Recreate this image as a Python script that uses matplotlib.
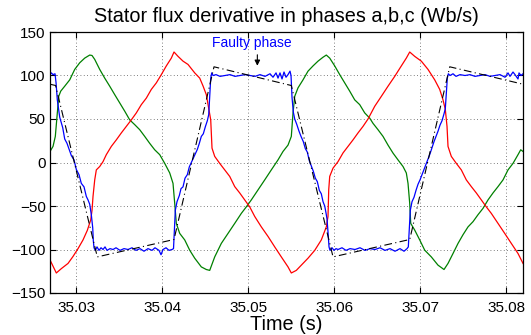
import matplotlib
matplotlib.use("Agg")
import matplotlib.pyplot as plt
import numpy as np

plt.rcParams['font.family'] = ['Liberation Sans', 'DejaVu Sans']

# ---- data (time in s, flux derivative in Wb/s) ----
blue_t = [35.026942, 35.027093, 35.027291, 35.027523, 35.027640, 35.027791, 35.028070, 35.028419,
          35.028651, 35.028919, 35.029419, 35.029733, 35.030000, 35.030314, 35.030581, 35.030895,
          35.031163, 35.031360, 35.031558, 35.031744, 35.031907, 35.031977, 35.032058, 35.032209,
          35.032407, 35.032640, 35.032872, 35.033105, 35.033337, 35.033570, 35.033919, 35.034267,
          35.034616, 35.035081, 35.035547, 35.036012, 35.036477, 35.036942, 35.037407, 35.037872,
          35.038337, 35.038802, 35.039151, 35.039616, 35.039849, 35.040081, 35.040430, 35.040779,
          35.041128, 35.041302, 35.041419, 35.041512, 35.041709, 35.041977, 35.042174, 35.042407,
          35.042640, 35.042907, 35.043140, 35.043372, 35.043605, 35.043837, 35.044070, 35.044302,
          35.044535, 35.044767, 35.045000, 35.045233, 35.045395, 35.045512, 35.045628, 35.045744,
          35.045895, 35.046244, 35.046709, 35.047291, 35.047872, 35.048453, 35.049035, 35.049616,
          35.050198, 35.050779, 35.051360, 35.051942, 35.052523, 35.052872, 35.053221, 35.053453,
          35.053686, 35.053919, 35.054151, 35.054384, 35.054616, 35.054849, 35.054965, 35.055081,
          35.055233, 35.055395, 35.055628, 35.055895, 35.056128, 35.056395, 35.056628, 35.056860,
          35.057093, 35.057326, 35.057558, 35.057791, 35.058023, 35.058256, 35.058488, 35.058686,
          35.058884, 35.059035, 35.059151, 35.059267, 35.059384, 35.059500, 35.059733, 35.059965,
          35.060198, 35.060430, 35.060895, 35.061360, 35.061826, 35.062407, 35.062988, 35.063570,
          35.064151, 35.064733, 35.065314, 35.065895, 35.066477, 35.067058, 35.067640, 35.068105,
          35.068453, 35.068605, 35.068721, 35.068837, 35.069035, 35.069267, 35.069500, 35.069733,
          35.069965, 35.070198, 35.070430, 35.070663, 35.070895, 35.071128, 35.071360, 35.071593,
          35.071826, 35.072058, 35.072291, 35.072523, 35.072756, 35.072907, 35.073023, 35.073140,
          35.073256, 35.073453, 35.073802, 35.074151, 35.074616, 35.075198, 35.075779, 35.076360,
          35.076942, 35.077523, 35.078105, 35.078686, 35.079267, 35.079849, 35.080198, 35.080430,
          35.080779, 35.081012, 35.081360, 35.081477, 35.081709, 35.081942]
blue_v = [101, 103, 101, 102, 92, 72, 52, 40,
          27, 22, 8, 3, -8, -14, -24, -28,
          -39, -43, -48, -60, -75, -90, -98, -101,
          -97, -101, -98, -100, -97, -101, -99, -100,
          -98, -101, -99, -100, -98, -101, -99, -102,
          -99, -101, -98, -101, -106, -100, -98, -101,
          -100, -99, -75, -55, -45, -38, -30, -28,
          -18, -14, -5, 0, 5, 10, 15, 22,
          30, 33, 41, 48, 55, 75, 97, 103,
          100, 101, 99, 100, 101, 99, 100, 101,
          100, 99, 101, 99, 102, 98, 103, 97,
          103, 96, 104, 98, 101, 105, 100, 75,
          58, 50, 44, 36, 30, 24, 16, 12,
          2, -4, -10, -18, -22, -32, -36, -45,
          -50, -58, -65, -80, -97, -101, -98, -101,
          -99, -100, -98, -101, -99, -100, -98, -101,
          -99, -100, -98, -101, -99, -102, -99, -102,
          -99, -97, -75, -55, -45, -40, -32, -25,
          -20, -14, -8, -2, 4, 10, 17, 24,
          30, 36, 43, 48, 56, 62, 80, 97,
          102, 100, 102, 99, 101, 100, 101, 99,
          100, 101, 99, 100, 101, 98, 103, 99,
          104, 101, 96, 103, 100, 102]

red_t = [35.026942, 35.027674, 35.028256, 35.029035, 35.029616, 35.030198, 35.030779, 35.031279,
         35.031674, 35.031826, 35.031942, 35.032140, 35.032326, 35.032721, 35.033105, 35.033488,
         35.034070, 35.034651, 35.035233, 35.035814, 35.036395, 35.036977, 35.037558, 35.038140,
         35.038721, 35.039302, 35.039884, 35.040465, 35.041047, 35.041360, 35.041826, 35.042407,
         35.042988, 35.043767, 35.044349, 35.044733, 35.045116, 35.045400, 35.045628, 35.045779,
         35.046093, 35.046674, 35.047256, 35.047837, 35.048419, 35.049000, 35.049581, 35.050163,
         35.050744, 35.051512, 35.052291, 35.053070, 35.053837, 35.054616, 35.055000, 35.055581,
         35.056163, 35.056942, 35.057721, 35.058488, 35.059070, 35.059267, 35.059349, 35.059465,
         35.059849, 35.060430, 35.061012, 35.061593, 35.062174, 35.062756, 35.063337, 35.063919,
         35.064698, 35.065465, 35.066244, 35.067023, 35.067791, 35.068372, 35.068767, 35.069349,
         35.070116, 35.070895, 35.071674, 35.072256, 35.072640, 35.072907, 35.073105, 35.073221,
         35.073605, 35.074186, 35.074767, 35.075349, 35.075930, 35.076512, 35.077093, 35.077674,
         35.078256, 35.079035, 35.079814, 35.080581, 35.081360, 35.081942]
red_v = [-112, -127, -122, -116, -108, -99, -89, -78,
         -66, -55, -39, -20, -8.5, -4.6, 1, 9,
         18.5, 26, 34, 41.5, 49, 57, 66.5, 74,
         84, 91.5, 101, 111, 120, 127, 122, 116.5,
         112.7, 103, 97, 88, 78, 62, 49, 16.5,
         7, -1, -8.5, -16, -27.7, -35, -43, -51,
         -62, -74, -85, -97, -108.5, -120, -127, -124,
         -118, -110, -101, -89, -74, -62, -31.5, -16,
         -6.5, 1, 11, 18.5, 26, 34, 41.5, 50,
         64.6, 76, 87.7, 99, 111, 120, 127, 122,
         116.5, 107, 95, 84, 72, 61, 41.5, 18.5,
         7, -1, -8.5, -20, -27.7, -35, -43, -51,
         -58.5, -70, -81.5, -93, -104.6, -116]

green_t = [35.026942, 35.027291, 35.027558, 35.027791, 35.027953, 35.028186, 35.028651, 35.029233,
           35.029814, 35.030395, 35.030977, 35.031558, 35.031826, 35.032140, 35.032721, 35.033302,
           35.033884, 35.034465, 35.035047, 35.035628, 35.036209, 35.036791, 35.037372, 35.037953,
           35.038535, 35.039116, 35.039698, 35.040279, 35.040860, 35.041244, 35.041442, 35.041628,
           35.042023, 35.042605, 35.043186, 35.043767, 35.044535, 35.045116, 35.045512, 35.046093,
           35.046860, 35.047640, 35.048419, 35.049186, 35.049767, 35.050349, 35.051128, 35.051907,
           35.052674, 35.053453, 35.054035, 35.054616, 35.055000, 35.055198, 35.055395, 35.055779,
           35.056360, 35.056942, 35.057523, 35.058105, 35.058686, 35.059070, 35.059465, 35.060047,
           35.060628, 35.061209, 35.061791, 35.062372, 35.062953, 35.063535, 35.064116, 35.064500,
           35.065081, 35.065663, 35.066244, 35.066826, 35.067407, 35.067988, 35.068372, 35.068570,
           35.068767, 35.068884, 35.069349, 35.069930, 35.070512, 35.071279, 35.072058, 35.072756,
           35.073221, 35.073802, 35.074384, 35.074965, 35.075547, 35.076128, 35.076709, 35.077291,
           35.077872, 35.078453, 35.079035, 35.079616, 35.080198, 35.080779, 35.081360, 35.081674,
           35.081942]
green_v = [12.7, 18.5, 30, 57, 76, 82, 87.7, 95,
           107, 114.6, 120, 123.5, 123, 118.5, 107, 97,
           87.7, 78, 68.5, 59, 49, 43.5, 37.7, 30,
           22, 14.6, 9, -1, -12, -24, -47, -70,
           -81.5, -89, -100.8, -110, -120, -123, -124, -108.5,
           -93, -81.5, -70, -58.5, -51, -43, -31.5, -20,
           -8.5, 3, 12.7, 20, 30, 57, 76, 85.8,
           95, 105, 111, 116.5, 121, 123.5, 120, 111,
           101, 91.5, 82, 72, 66.5, 57, 51, 45,
           37.7, 30, 20, 10.8, 3, -4.6, -12, -24,
           -47, -70, -77.7, -89, -100.8, -108.5, -118, -123,
           -116, -104.6, -93, -83, -74, -68, -60, -52.7,
           -43, -35, -27.7, -20, -8.5, -1, 9, 14.6,
           12.7]

ideal_t = [35.02694, 35.02759, 35.03244, 35.04136, 35.04601, 35.05500,
           35.05985, 35.06877, 35.07342, 35.08194]
ideal_v = [90, 88.5, -108.5, -88.5, 110, 88.5, -108.5, -88.5, 110, 90]

x_ticks = [35.03, 35.04, 35.05, 35.06, 35.07, 35.08]
y_ticks = [-150, -100, -50, 0, 50, 100, 150]

fig = plt.figure(figsize=(5.31, 3.35), dpi=100)
ax = fig.add_axes([50/531, 1-293/335, 473/531, 261/335])

ax.plot(green_t, green_v, color='#008000', lw=0.9)
ax.plot(red_t, red_v, color='#ff0000', lw=0.9)
ax.plot(blue_t, blue_v, color='#0000ff', lw=0.9)
ax.plot(ideal_t, ideal_v, color='black', lw=0.8, linestyle=(0, (7, 3, 1, 3)))

ax.set_xlim(35.02694, 35.08194)
ax.set_ylim(-150, 150)
ax.set_xticks(x_ticks)
ax.set_xticklabels(['%.2f' % v for v in x_ticks])
ax.set_yticks(y_ticks)
ax.tick_params(direction='in', top=True, right=True, labelsize=11, length=4, width=0.8)
ax.tick_params(axis='x', pad=6)
ax.tick_params(axis='y', pad=3)
ax.grid(True, linestyle=(0, (1, 3)), color='#555555', lw=0.6)
for s in ax.spines.values():
    s.set_linewidth(0.9)

ax.set_title('Stator flux derivative in phases a,b,c (Wb/s)', fontsize=14.3, pad=7)
ax.set_xlabel('Time (s)', fontsize=14.3, labelpad=0)

ax.annotate('', xy=(35.05105, 108), xytext=(35.05105, 127),
            arrowprops=dict(arrowstyle='-|>', color='black', lw=0.8, mutation_scale=8))
ax.text(35.05043, 137, 'Faulty phase', color='#0000ff', fontsize=10, ha='center', va='center')

fig.savefig('out.png', dpi=100)
